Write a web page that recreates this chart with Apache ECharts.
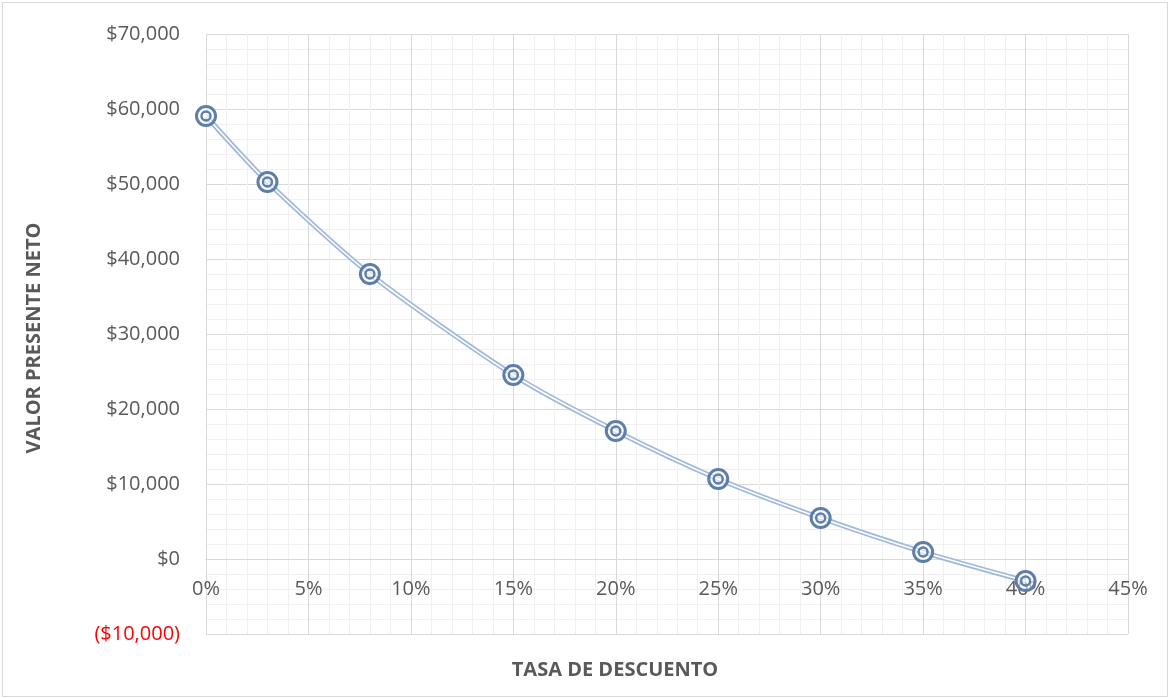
<!DOCTYPE html>
<html>
<head>
<meta charset="utf-8">
<script src="https://cdn.jsdelivr.net/npm/echarts@6/dist/echarts.min.js"></script>
<style>
  html, body { margin: 0; padding: 0; background: #fff; }
  #chart { width: 1169px; height: 698px; }
  #frame { position: absolute; left: 2px; top: 2px; width: 1164px; height: 693px; border: 1px solid #D9D9D9; pointer-events: none; }
</style>
</head>
<body>
<div id="chart"></div>
<div id="frame"></div>
<script>
// Discount rate (%) and net present value
const rates = [0, 3, 8, 15, 20, 25, 30, 35, 40];
const npv = [59070, 50270, 38000, 24530, 17070, 10670, 5470, 930, -2930];
const xTitle = 'TASA DE DESCUENTO';
const yTitle = 'VALOR PRESENTE NETO';

const points = rates.map((r, i) => [r, npv[i]]);

function money(v) {
  const s = '$' + Math.abs(v).toLocaleString('en-US');
  return v < 0 ? '(' + s + ')' : s;
}

const chart = echarts.init(document.getElementById('chart'));
const font = '"Open Sans", "Liberation Sans", Arial, sans-serif';
const ring = '#5D7DAB';

chart.setOption({
  animation: false,
  grid: { left: 206, right: 41, top: 34, bottom: 64 },
  xAxis: {
    type: 'value', min: 0, max: 45, interval: 5,
    // axis sits on the $0 line (75px above the bottom edge)
    offset: -75,
    axisLine: { show: true, onZero: false, lineStyle: { color: '#D9D9D9', width: 1 } },
    axisTick: { show: false },
    axisLabel: { formatter: '{value}%', color: '#595959', fontSize: 20, fontFamily: font, margin: 20 },
    splitLine: { show: true, lineStyle: { color: '#D9D9D9', width: 1 } },
    minorTick: { show: false, splitNumber: 5 },
    minorSplitLine: { show: true, lineStyle: { color: '#F0F0F0', width: 1 } }
  },
  yAxis: {
    type: 'value', min: -10000, max: 70000, interval: 10000,
    axisLine: { show: false },
    axisTick: { show: false },
    axisLabel: {
      formatter: money,
      color: function (v) { return Number(v) < 0 ? '#FF0000' : '#595959'; },
      fontSize: 20, fontFamily: font, margin: 26
    },
    splitLine: { show: true, lineStyle: { color: '#D9D9D9', width: 1 } },
    minorTick: { show: false, splitNumber: 5 },
    minorSplitLine: { show: true, lineStyle: { color: '#F0F0F0', width: 1 } }
  },
  graphic: [
    { type: 'text', x: 615, y: 670, style: { text: xTitle, fill: '#595959', font: 'bold 20px ' + font, align: 'center', verticalAlign: 'middle' } },
    { type: 'text', x: 34, y: 338, rotation: Math.PI / 2, style: { text: yTitle, fill: '#595959', font: 'bold 20px ' + font, align: 'center', verticalAlign: 'middle' } }
  ],
  series: [
    {
      type: 'line', data: points, smooth: 0.25, symbol: 'none', z: 2,
      lineStyle: { color: '#A0B8DA', width: 5 }
    },
    {
      type: 'line', data: points, smooth: 0.25, symbol: 'none', z: 3,
      lineStyle: { color: '#FFFFFF', width: 1.6 }
    },
    {
      type: 'scatter', data: points, symbol: 'circle', symbolSize: 19, z: 4,
      itemStyle: { color: 'rgba(255,255,255,0.55)', borderColor: ring, borderWidth: 3, opacity: 1 }
    },
    {
      type: 'scatter', data: points, symbol: 'circle', symbolSize: 9, z: 5,
      itemStyle: { color: 'rgba(255,255,255,0)', borderColor: ring, borderWidth: 2.4, opacity: 1 }
    }
  ]
});
</script>
</body>
</html>
